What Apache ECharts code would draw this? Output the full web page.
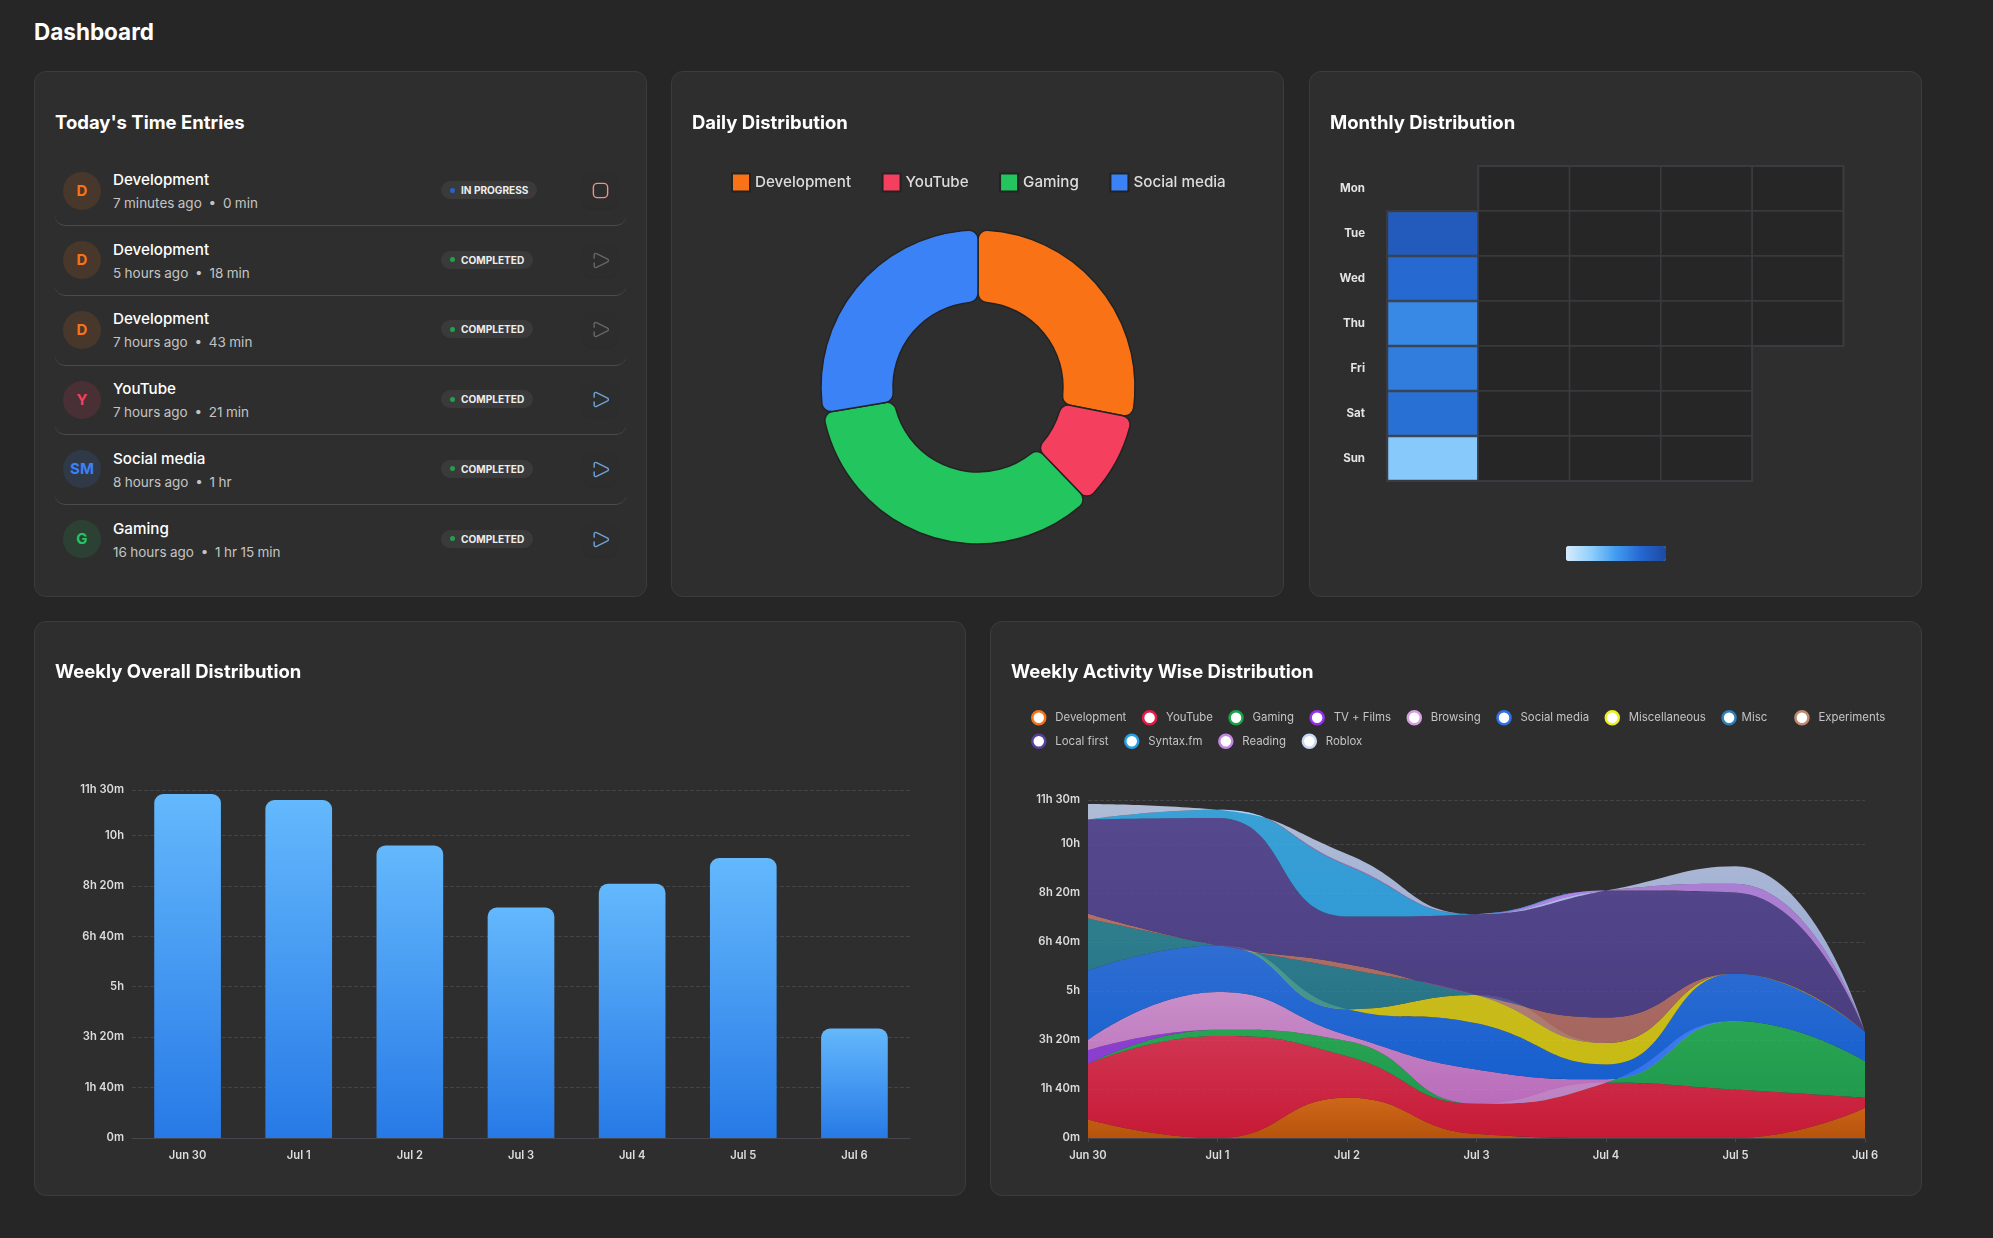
<!DOCTYPE html>
<html>
<head>
<meta charset="utf-8">
<title>Dashboard</title>
<script src="https://cdn.jsdelivr.net/npm/echarts@6/dist/echarts.min.js"></script>
<style>
  html, body { margin: 0; padding: 0; background: #262626; }
  body { width: 1993px; height: 1238px; position: relative; overflow: hidden; font-family: Inter, sans-serif; color: #fff; }
  h1 { position: absolute; left: 34px; top: 16px; margin: 0; font-size: 22.5px; line-height: 32px; font-weight: 700; }
  .card { position: absolute; box-sizing: border-box; background: #2e2e2e; border: 1px solid #3c3c40; border-radius: 12px; }
  .card h3 { position: absolute; left: 20px; margin: 0; font-size: 18.5px; line-height: 26px; font-weight: 650; z-index: 2; }
  .chart { position: absolute; left: -1px; top: -1px; }
  .row { position: absolute; left: 20px; width: 571px; height: 69.7px; box-sizing: border-box; border-bottom: 1px solid #4b4b4f; border-radius: 0 0 10px 10px; }
  .row.last { border-bottom: 0; }
  .avatar { position: absolute; left: 8px; top: 15px; width: 38px; height: 38px; border-radius: 50%; text-align: center; line-height: 38px; font-size: 15px; font-weight: 700; }
  .name { position: absolute; left: 58px; top: 12.5px; font-size: 15.2px; line-height: 22px; font-weight: 550; }
  .sub { position: absolute; left: 58px; top: 35.5px; font-size: 13.5px; line-height: 22px; color: #c4c4c4; white-space: pre; word-spacing: -0.4px; }
  .badge { position: absolute; left: 386px; top: 24.5px; height: 18px; border-radius: 9px; background: #3a3a3a; font-size: 10.1px; line-height: 18px; font-weight: 650; padding: 0 9px 0 20px; color: #eee; }
  .badge i { position: absolute; left: 9px; top: 6.5px; width: 5px; height: 5px; border-radius: 50%; }
  .btn { position: absolute; left: 528px; top: 17px; width: 34px; height: 34px; border-radius: 8px; background: #2d2d2d; box-shadow: 0 1px 2px rgba(0,0,0,.08); }
  .btn svg { position: absolute; left: 7.5px; top: 7.5px; }
</style>
</head>
<body>
<h1>Dashboard</h1>

<div class="card" style="left:34px;top:71px;width:613px;height:526px">
  <h3 style="top:36.5px">Today's Time Entries</h3>
  <div id="entries"></div>
</div>
<div class="card" style="left:671px;top:71px;width:613px;height:526px">
  <h3 style="top:36.5px">Daily Distribution</h3>
  <div class="chart" id="daily" style="width:613px;height:526px"></div>
</div>
<div class="card" style="left:1309px;top:71px;width:613px;height:526px">
  <h3 style="top:36.5px">Monthly Distribution</h3>
  <div class="chart" id="monthly" style="width:613px;height:526px"></div>
</div>
<div class="card" style="left:34px;top:621px;width:932px;height:575px">
  <h3 style="top:36px">Weekly Overall Distribution</h3>
  <div class="chart" id="overall" style="width:932px;height:575px"></div>
</div>
<div class="card" style="left:990px;top:621px;width:932px;height:575px">
  <h3 style="top:36px">Weekly Activity Wise Distribution</h3>
  <div class="chart" id="activity" style="width:932px;height:575px"></div>
</div>

<script>
const FONT = 'Inter, sans-serif';

// today's entries
const entryNames = ['Development', 'Development', 'Development', 'YouTube', 'Social media', 'Gaming'];
const entryAgo = ['7 minutes ago', '5 hours ago', '7 hours ago', '7 hours ago', '8 hours ago', '16 hours ago'];
const entryDurations = ['0 min', '18 min', '43 min', '21 min', '1 hr', '1 hr 15 min'];
const entryStatus = ['IN PROGRESS', 'COMPLETED', 'COMPLETED', 'COMPLETED', 'COMPLETED', 'COMPLETED'];
const entryLetters = ['D', 'D', 'D', 'Y', 'SM', 'G'];
const entryColors = ['#f97316', '#f97316', '#f97316', '#f43f5e', '#3b82f6', '#22c55e'];
const entryIcons = ['#e8928a', '#666666', '#666666', '#6fa3d8', '#6fa3d8', '#6fa3d8'];

// daily donut, minutes
const dailyNames = ['Development', 'YouTube', 'Gaming', 'Social media'];
const dailyValues = [61, 21, 75, 60];
const dailyColors = ['#f97316', '#f43f5e', '#22c55e', '#3b82f6'];

// weekly totals, minutes
const weekDays = ['Jun 30', 'Jul 1', 'Jul 2', 'Jul 3', 'Jul 4', 'Jul 5', 'Jul 6'];
const weekTotals = [682, 670, 580, 457, 504, 555, 217];

// monthly calendar
const monthDates = ['2025-07-01', '2025-07-02', '2025-07-03', '2025-07-04', '2025-07-05', '2025-07-06'];
const monthValues = [670, 580, 457, 504, 555, 217];
const dayNames = ['Sun', 'Mon', 'Tue', 'Wed', 'Thu', 'Fri', 'Sat'];
const heatColors = ['#d6ecfd', '#90cffb', '#429bf0', '#2568d0', '#1d4aa0'];

// activity stack, minutes per day, bottom to top
const activityNames = ['Development', 'YouTube', 'Gaming', 'TV + Films', 'Browsing', 'Social media', 'Miscellaneous', 'Misc', 'Experiments', 'Local first', 'Syntax.fm', 'Reading', 'Roblox'];
const development = [38, 0, 82, 8, 0, 0, 61];
const youtube = [113, 208, 85, 62, 113, 99, 21];
const gaming = [0, 13, 31, 0, 0, 140, 75];
const tvFilms = [28, 0, 0, 0, 0, 0, 0];
const browsing = [21, 77, 12, 70, 7, 0, 0];
const socialMedia = [142, 95, 53, 94, 30, 97, 60];
const miscellaneous = [0, 0, 0, 58, 44, 0, 0];
const misc = [106, 0, 82, 0, 0, 0, 0];
const experiments = [10, 0, 10, 0, 52, 0, 0];
const localFirst = [192, 260, 97, 165, 259, 165, 0];
const syntaxFm = [0, 17, 104, 0, 0, 0, 0];
const reading = [0, 0, 2, 0, 0, 18, 0];
const roblox = [32, 0, 22, 0, 0, 36, 0];
const activityValues = [development, youtube, gaming, tvFilms, browsing, socialMedia, miscellaneous, misc, experiments, localFirst, syntaxFm, reading, roblox];
const activityLegend = ['#f97316', '#e11d48', '#16a34a', '#9333ea', '#d8a0e0', '#2f72e8', '#eeee22', '#2f7fb8', '#c08a70', '#5a3f9e', '#2a9ee0', '#c088e0', '#c8d8f0'];
const activityTop = ['#cf6719', '#d03552', '#28a653', '#8b3fd0', '#c98fc8', '#2f6ed3', '#c8bb20', '#2e7f8e', '#b07068', '#56488e', '#3aa0d8', '#aa80d4', '#b0bcdc'];
const activityBottom = ['#b6540c', '#c71a37', '#20984e', '#8b3fd0', '#b96cbb', '#1760cf', '#c8bb14', '#267084', '#a56660', '#4a3e80', '#2a94d4', '#a87ad0', '#94a4d4'];

const AREA_ALPHA = 0.8;
const CARD_GREY = 46;

// the colour that gives c when painted at AREA_ALPHA over the card
const unblend = (c) => {
  const n = parseInt(c.slice(1), 16);
  const ch = [n >> 16, (n >> 8) & 255, n & 255].map((v) =>
    Math.max(0, Math.min(255, Math.round((v - (1 - AREA_ALPHA) * CARD_GREY) / AREA_ALPHA))));
  return `rgba(${ch[0]},${ch[1]},${ch[2]},${AREA_ALPHA})`;
};

const fmtTime = (v) => {
  const h = Math.floor(v / 60);
  const m = Math.round(v - h * 60);
  if (h === 0) return m + 'm';
  return m === 0 ? h + 'h' : h + 'h ' + m + 'm';
};

const playIcon = (c) => `<svg width="19" height="19" viewBox="0 0 24 24" fill="none" stroke="${c}" stroke-width="1.8" stroke-linecap="round" stroke-linejoin="round"><path d="M4 9V5a2 2 0 0 1 3-1.7l14 7a2 2 0 0 1 0 3.4l-14 7a2 2 0 0 1-3-1.7v-4"/></svg>`;
const stopIcon = (c) => `<svg width="19" height="19" viewBox="0 0 24 24" fill="none" stroke="${c}" stroke-width="1.8"><rect x="3" y="3" width="18" height="18" rx="5"/></svg>`;

const hexAlpha = (c, a) => {
  const n = parseInt(c.slice(1), 16);
  return `rgba(${n >> 16},${(n >> 8) & 255},${n & 255},${a})`;
};

entryNames.forEach((name, i) => {
  const row = document.createElement('div');
  row.className = 'row' + (i === entryNames.length - 1 ? ' last' : '');
  row.style.top = (84.5 + i * 69.7) + 'px';
  const inProgress = entryStatus[i] === 'IN PROGRESS';
  row.innerHTML = `
    <div class="avatar" style="background:${hexAlpha(entryColors[i], 0.13)};color:${entryColors[i]}">${entryLetters[i]}</div>
    <div class="name">${name}</div>
    <div class="sub">${entryAgo[i]}  •  ${entryDurations[i]}</div>
    <div class="badge"><i style="background:${inProgress ? '#2563c8' : '#22a04e'}"></i>${entryStatus[i]}</div>
    <div class="btn">${inProgress ? stopIcon(entryIcons[i]) : playIcon(entryIcons[i])}</div>`;
  document.getElementById('entries').appendChild(row);
});

echarts.init(document.getElementById('daily')).setOption({
  animation: false,
  textStyle: { fontFamily: FONT },
  legend: {
    left: 55, top: 96.5, itemWidth: 18, itemHeight: 18, itemGap: 30.5, icon: 'rect',
    textStyle: { color: '#dddddd', fontSize: 15.2, fontFamily: FONT, fontWeight: 500 },
    data: dailyNames
  },
  series: [{
    type: 'pie',
    center: [307, 316],
    radius: [85, 157],
    label: { show: false },
    itemStyle: { borderRadius: 9, borderColor: '#232323', borderWidth: 1.5 },
    data: dailyNames.map((n, i) => ({ name: n, value: dailyValues[i], itemStyle: { color: dailyColors[i] } }))
  }]
});

echarts.init(document.getElementById('monthly')).setOption({
  animation: false,
  textStyle: { fontFamily: FONT },
  visualMap: {
    type: 'continuous', min: 0, max: 780, calculable: false, orient: 'horizontal',
    left: 242, top: 460, itemWidth: 15, itemHeight: 100, showLabel: false,
    inRange: { color: heatColors }
  },
  calendar: {
    left: 78, top: 95, cellSize: [91.3, 45], orient: 'horizontal', range: '2025-07',
    itemStyle: { color: '#262626', borderColor: '#3a3a3f', borderWidth: 1.5 },
    splitLine: { show: true, lineStyle: { color: '#3a3a40', width: 2 } },
    monthLabel: { show: false },
    yearLabel: { show: false },
    dayLabel: { firstDay: 1, nameMap: dayNames, margin: 22, color: '#e4e4e4', fontSize: 11.5, fontWeight: 'bold', fontFamily: FONT }
  },
  series: [{
    type: 'heatmap',
    coordinateSystem: 'calendar',
    itemStyle: { borderColor: '#3a4452', borderWidth: 1 },
    data: monthDates.map((d, i) => [d, monthValues[i]])
  }]
});

const axisLabelStyle = { color: '#dddddd', fontSize: 11.2, fontFamily: FONT, fontWeight: 600 };

echarts.init(document.getElementById('overall')).setOption({
  animation: false,
  grid: { left: 98, right: 56, top: 169, bottom: 58 },
  xAxis: {
    type: 'category', data: weekDays,
    axisLine: { lineStyle: { color: '#46464c' } },
    axisTick: { alignWithLabel: true, length: 4, lineStyle: { color: '#46464c' } },
    axisLabel: { ...axisLabelStyle, margin: 12.5 }
  },
  yAxis: {
    type: 'value', min: 0, max: 690, interval: 100,
    axisLabel: { ...axisLabelStyle, margin: 8, formatter: fmtTime },
    splitLine: { lineStyle: { color: '#434348', type: 'dashed' } }
  },
  series: [{
    type: 'bar',
    data: weekTotals,
    barWidth: '60%',
    itemStyle: {
      borderRadius: [9, 9, 0, 0],
      color: new echarts.graphic.LinearGradient(0, 0, 0, 1, [
        { offset: 0, color: '#64b8fc' },
        { offset: 1, color: '#277ae6' }
      ])
    }
  }]
});

echarts.init(document.getElementById('activity')).setOption({
  animation: false,
  legend: {
    left: 36, top: 84, width: 880, itemWidth: 13, itemHeight: 13, itemGap: 8, icon: 'circle',
    textStyle: { color: '#c4c4c4', fontSize: 11.4, fontFamily: FONT, lineHeight: 11, padding: [0, 7.5, 0, 5] },
    data: activityNames.map((n, i) => ({
      name: n,
      itemStyle: { color: '#ffffff', borderColor: activityLegend[i], borderWidth: 2.5 },
      textStyle: n === 'Misc' ? { padding: [0, 19, 0, 1] } : undefined
    }))
  },
  grid: { left: 98, right: 57, top: 179, bottom: 58 },
  xAxis: {
    type: 'category', data: weekDays, boundaryGap: false,
    axisLine: { lineStyle: { color: '#46464c' } },
    axisTick: { length: 4, lineStyle: { color: '#46464c' } },
    axisLabel: { ...axisLabelStyle, margin: 12.5 }
  },
  yAxis: {
    type: 'value', min: 0, max: 690, interval: 100,
    axisLabel: { ...axisLabelStyle, margin: 8, formatter: fmtTime },
    splitLine: { lineStyle: { color: '#434348', type: 'dashed' } }
  },
  series: activityNames.map((n, i) => ({
    name: n,
    type: 'line',
    stack: 'total',
    smooth: true,
    showSymbol: false,
    lineStyle: { width: 0 },
    itemStyle: { color: activityLegend[i] },
    areaStyle: {
      opacity: 1,
      color: new echarts.graphic.LinearGradient(0, 0, 0, 1, [
        { offset: 0, color: unblend(activityTop[i]) },
        { offset: 1, color: unblend(activityBottom[i]) }
      ])
    },
    data: activityValues[i]
  }))
});
</script>
</body>
</html>
